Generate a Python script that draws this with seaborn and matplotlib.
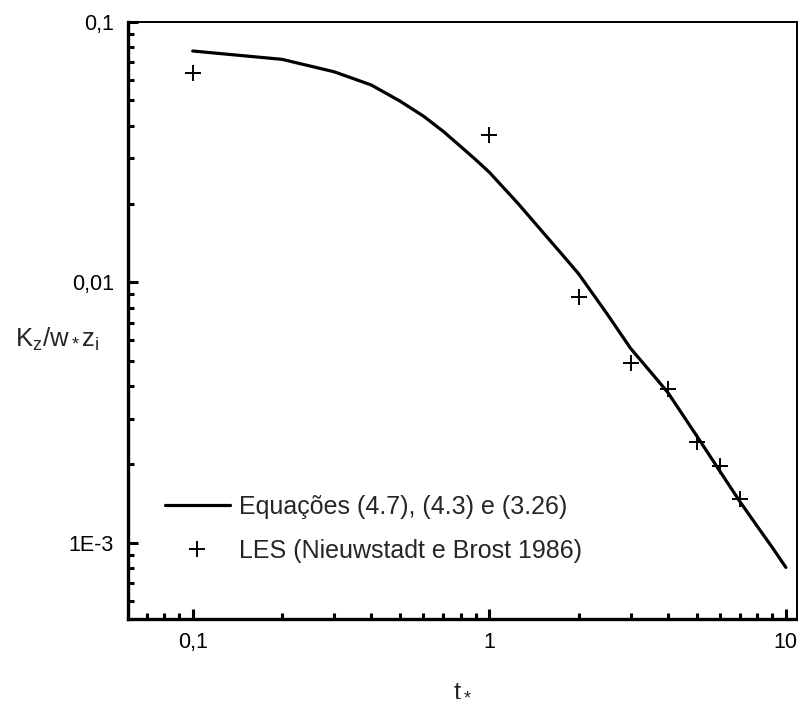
import numpy as np
import pandas as pd
import matplotlib
matplotlib.use("Agg")
import matplotlib.pyplot as plt
import matplotlib.ticker as mticker
import seaborn as sns

# curva do modelo, Equações (4.7), (4.3) e (3.26)
t_modelo = [0.1, 0.2, 0.3, 0.4, 0.5, 0.6, 0.7, 0.8, 0.9, 1.0,
            1.25, 1.5, 1.75, 2, 2.5, 3, 3.5, 4, 5, 6, 7, 8, 9, 10]
k_modelo = [0.0774, 0.0719, 0.0644, 0.0573, 0.0497, 0.0435, 0.038, 0.0333, 0.0296, 0.0265,
            0.0201, 0.0158, 0.0129, 0.0108, 0.00755, 0.00557, 0.00453, 0.00378,
            0.00258, 0.00188, 0.00144, 0.00116, 0.00096, 0.000805]

# pontos LES (Nieuwstadt e Brost 1986)
t_les = [0.1, 1, 2, 3, 4, 5, 6, 7]
k_les = [0.0637, 0.0368, 0.0088, 0.0049, 0.0039, 0.00245, 0.00197, 0.00148]

xticks = [0.1, 1, 10]
xticklabels = ["0,1", "1", "10"]
yticks = [0.001, 0.01, 0.1]
yticklabels = ["1E-3", "0,01", "0,1"]

lbl_modelo = "Equações (4.7), (4.3) e (3.26)"
lbl_les = "LES (Nieuwstadt e Brost 1986)"

sns.set_style("ticks")
plt.rcParams["font.family"] = ["Liberation Sans", "DejaVu Sans"]
plt.rcParams["mathtext.fontset"] = "custom"
plt.rcParams["mathtext.rm"] = "Liberation Sans"
plt.rcParams["mathtext.it"] = "Liberation Sans"

df_mod = pd.DataFrame({"t": t_modelo, "k": k_modelo})
df_les = pd.DataFrame({"t": t_les, "k": k_les})

fig = plt.figure(figsize=(7.98, 7.06), dpi=100)
ax = fig.add_axes([0.1604, 0.1232, 0.8383, 0.8456])

sns.lineplot(data=df_mod, x="t", y="k", ax=ax, color="black", linewidth=2.3,
             label=lbl_modelo, sort=True)
sns.lineplot(data=df_les, x="t", y="k", ax=ax, color="black", linestyle="",
             marker="+", markersize=12, markeredgewidth=1.4,
             markeredgecolor="black", label=lbl_les)

ax.set_xscale("log")
ax.set_yscale("log")
ax.set_xlim(0.0605, 10.9)
ax.set_ylim(5.1e-4, 0.1)

ax.xaxis.set_major_locator(mticker.FixedLocator(xticks))
ax.xaxis.set_major_formatter(mticker.FixedFormatter(xticklabels))
ax.yaxis.set_major_locator(mticker.FixedLocator(yticks))
ax.yaxis.set_major_formatter(mticker.FixedFormatter(yticklabels))
ax.xaxis.set_minor_locator(mticker.LogLocator(base=10, subs=np.arange(2, 10)))
ax.yaxis.set_minor_locator(mticker.LogLocator(base=10, subs=np.arange(2, 10)))
ax.xaxis.set_minor_formatter(mticker.NullFormatter())
ax.yaxis.set_minor_formatter(mticker.NullFormatter())

ax.tick_params(which="both", direction="in", top=False, right=False,
               color="black", width=2.2, labelsize=15.5, labelcolor="black")
ax.tick_params(axis="x", which="both", pad=9)
ax.tick_params(axis="y", which="both", pad=10)
ax.tick_params(which="major", length=7.5)
ax.tick_params(which="minor", length=4.5)

for s in ["left", "bottom"]:
    ax.spines[s].set_linewidth(2.4)
    ax.spines[s].set_color("black")
for s in ["top", "right"]:
    ax.spines[s].set_linewidth(1.4)
    ax.spines[s].set_color("black")

ax.set_xlabel(r"$\mathregular{t_*}$", fontsize=18.5)
ax.xaxis.set_label_coords(0.5, -0.097)
ax.set_ylabel(r"$\mathregular{K_z/w_*z_i}$", fontsize=18.5, rotation=0,
              ha="left", va="baseline")
ax.yaxis.set_label_coords(-0.169, 0.4556)

ax.legend(loc="center left", bbox_to_anchor=(0.0553, 0.1516), frameon=False,
          fontsize=18, handlelength=2.6, handletextpad=0.35, labelspacing=0.8,
          borderpad=0, borderaxespad=0)

fig.savefig("out.png", dpi=100, facecolor="white")
